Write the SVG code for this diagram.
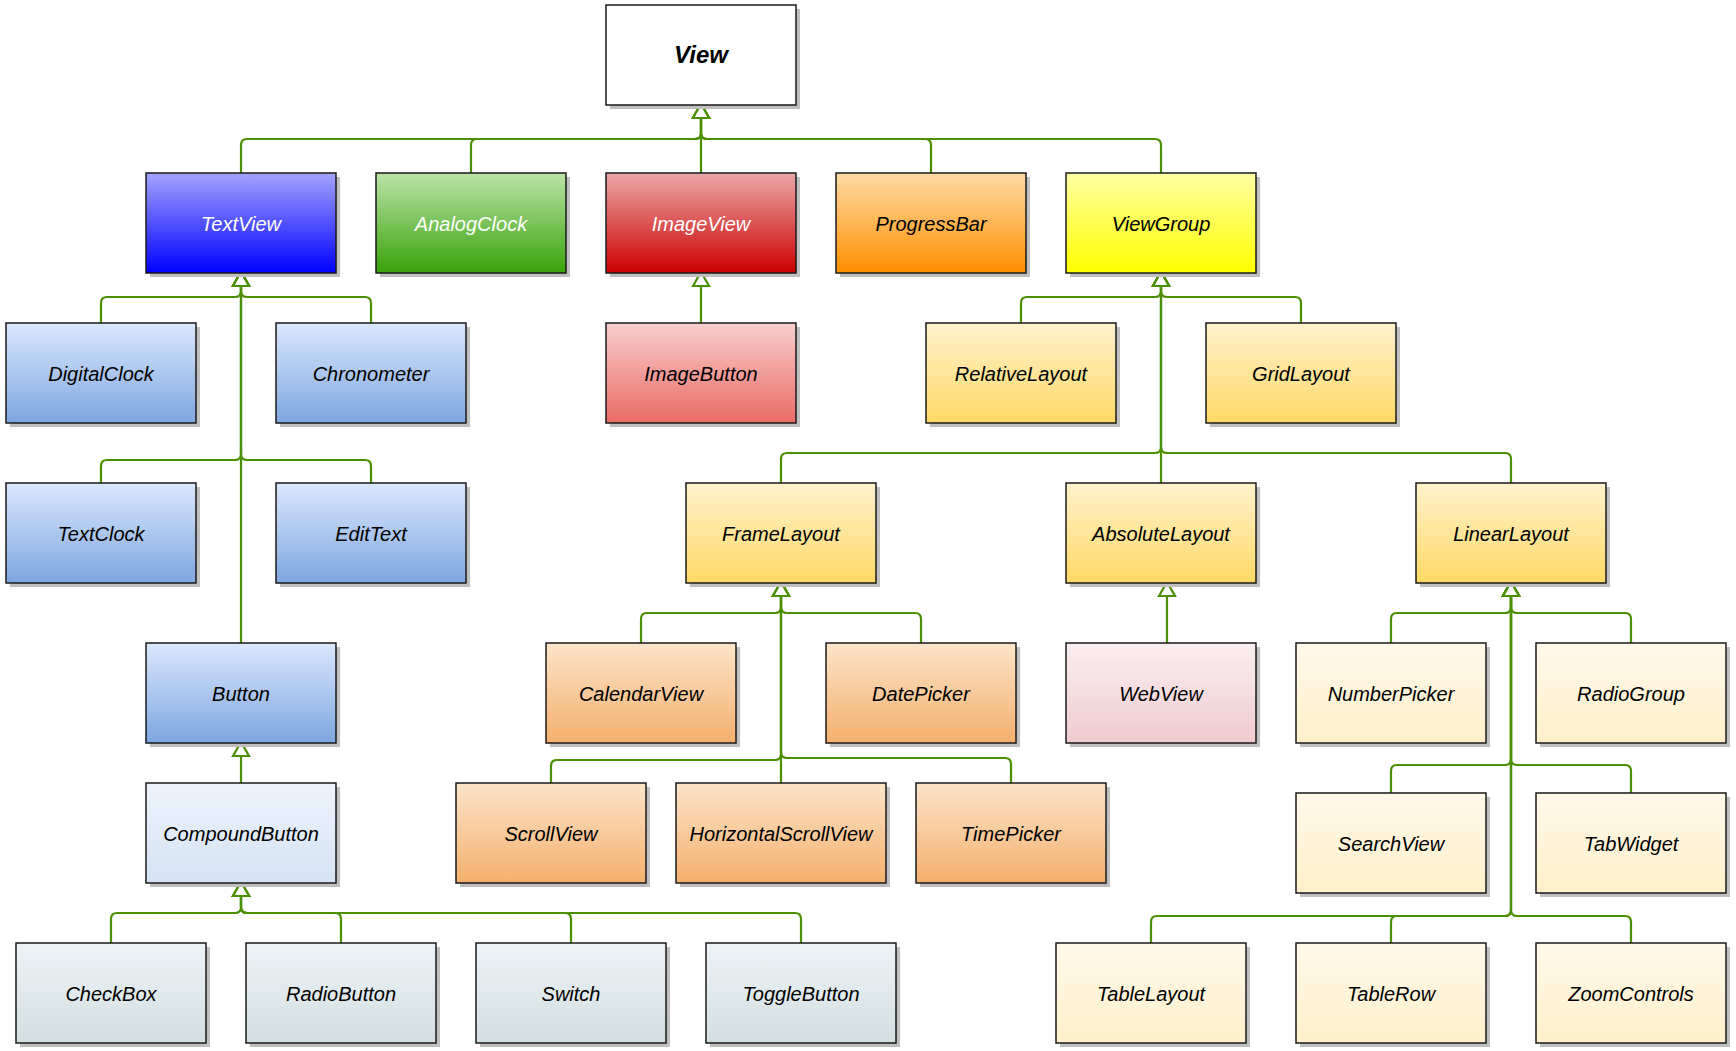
<svg xmlns="http://www.w3.org/2000/svg" width="1736" height="1051" viewBox="0 0 1736 1051">
<defs>
<style>
.shadow{fill:#BFBFBF}
.box{stroke:#1A1A1A;stroke-width:1.5}
.lbl{font-family:"Liberation Sans",Arial,sans-serif;font-size:20px;font-style:italic;text-anchor:middle;fill:#000}
.wh{fill:#fff}
.big{font-size:24px;font-weight:bold}
.edge{fill:none;stroke:#4A9000;stroke-width:2.2;marker-end:url(#tri)}
</style>
<marker id="tri" markerUnits="userSpaceOnUse" markerWidth="20" markerHeight="20" viewBox="-2 -2 20 20" refX="13" refY="8" orient="auto">
<path d="M0,0 L14,8 L0,16 Z" fill="#fff" stroke="#4A9000" stroke-width="2.2"/>
</marker>
<linearGradient id="gTextView" x1="0" y1="0" x2="0" y2="1"><stop offset="0" stop-color="#A3A3FF"/><stop offset="1" stop-color="#0000FF"/></linearGradient>
<linearGradient id="gAnalog" x1="0" y1="0" x2="0" y2="1"><stop offset="0" stop-color="#BCE3A8"/><stop offset="1" stop-color="#38A30A"/></linearGradient>
<linearGradient id="gImageView" x1="0" y1="0" x2="0" y2="1"><stop offset="0" stop-color="#ECA8A8"/><stop offset="1" stop-color="#CC0000"/></linearGradient>
<linearGradient id="gProgress" x1="0" y1="0" x2="0" y2="1"><stop offset="0" stop-color="#FFDBA6"/><stop offset="1" stop-color="#FF8F00"/></linearGradient>
<linearGradient id="gViewGroup" x1="0" y1="0" x2="0" y2="1"><stop offset="0" stop-color="#FFFFA3"/><stop offset="1" stop-color="#FFFF00"/></linearGradient>
<linearGradient id="gBlue" x1="0" y1="0" x2="0" y2="1"><stop offset="0" stop-color="#DAE8FC"/><stop offset="1" stop-color="#7EA6E0"/></linearGradient>
<linearGradient id="gRed" x1="0" y1="0" x2="0" y2="1"><stop offset="0" stop-color="#F8CECC"/><stop offset="1" stop-color="#EA6B66"/></linearGradient>
<linearGradient id="gYellow" x1="0" y1="0" x2="0" y2="1"><stop offset="0" stop-color="#FFF2CC"/><stop offset="1" stop-color="#FFD966"/></linearGradient>
<linearGradient id="gOrange" x1="0" y1="0" x2="0" y2="1"><stop offset="0" stop-color="#FCE4CA"/><stop offset="1" stop-color="#F4B06C"/></linearGradient>
<linearGradient id="gPink" x1="0" y1="0" x2="0" y2="1"><stop offset="0" stop-color="#FAEEF0"/><stop offset="1" stop-color="#F0CBCF"/></linearGradient>
<linearGradient id="gCream" x1="0" y1="0" x2="0" y2="1"><stop offset="0" stop-color="#FFF9E9"/><stop offset="1" stop-color="#FFF0CB"/></linearGradient>
<linearGradient id="gLightBlue" x1="0" y1="0" x2="0" y2="1"><stop offset="0" stop-color="#EEF4FC"/><stop offset="1" stop-color="#D4E2F4"/></linearGradient>
<linearGradient id="gGray" x1="0" y1="0" x2="0" y2="1"><stop offset="0" stop-color="#EEF3F6"/><stop offset="1" stop-color="#D2DFE1"/></linearGradient>
</defs>
<rect width="1736" height="1051" fill="#fff"/>

<g id="connectors">
<path class="edge" d="M241 173 V145 Q241 139 247 139 H695 Q701 139 701 133 V105"/>
<path class="edge" d="M471 173 V145 Q471 139 477 139 H695 Q701 139 701 133 V105"/>
<path class="edge" d="M701 173 V105"/>
<path class="edge" d="M931 173 V145 Q931 139 925 139 H707 Q701 139 701 133 V105"/>
<path class="edge" d="M1161 173 V145 Q1161 139 1155 139 H707 Q701 139 701 133 V105"/>
<path class="edge" d="M101 323 V303 Q101 297 107 297 H235 Q241 297 241 291 V273"/>
<path class="edge" d="M371 323 V303 Q371 297 365 297 H247 Q241 297 241 291 V273"/>
<path class="edge" d="M101 483 V466 Q101 460 107 460 H235 Q241 460 241 454 V273"/>
<path class="edge" d="M371 483 V466 Q371 460 365 460 H247 Q241 460 241 454 V273"/>
<path class="edge" d="M241 643 V273"/>
<path class="edge" d="M701 323 V273"/>
<path class="edge" d="M1021 323 V303 Q1021 297 1027 297 H1155 Q1161 297 1161 291 V273"/>
<path class="edge" d="M1301 323 V303 Q1301 297 1295 297 H1167 Q1161 297 1161 291 V273"/>
<path class="edge" d="M781 483 V459 Q781 453 787 453 H1155 Q1161 453 1161 447 V273"/>
<path class="edge" d="M1161 483 V273"/>
<path class="edge" d="M1511 483 V459 Q1511 453 1505 453 H1167 Q1161 453 1161 447 V273"/>
<path class="edge" d="M241 783 V743"/>
<path class="edge" d="M111 943 V919 Q111 913 117 913 H235 Q241 913 241 907 V883"/>
<path class="edge" d="M341 943 V919 Q341 913 335 913 H247 Q241 913 241 907 V883"/>
<path class="edge" d="M571 943 V919 Q571 913 565 913 H247 Q241 913 241 907 V883"/>
<path class="edge" d="M801 943 V919 Q801 913 795 913 H247 Q241 913 241 907 V883"/>
<path class="edge" d="M641 643 V619 Q641 613 647 613 H775 Q781 613 781 607 V583"/>
<path class="edge" d="M921 643 V619 Q921 613 915 613 H787 Q781 613 781 607 V583"/>
<path class="edge" d="M551 783 V766 Q551 760 557 760 H775 Q781 760 781 754 V583"/>
<path class="edge" d="M781 783 V583"/>
<path class="edge" d="M1011 783 V764 Q1011 758 1005 758 H787 Q781 758 781 752 V583"/>
<path class="edge" d="M1167 643 V583"/>
<path class="edge" d="M1391 643 V619 Q1391 613 1397 613 H1505 Q1511 613 1511 607 V583"/>
<path class="edge" d="M1631 643 V619 Q1631 613 1625 613 H1517 Q1511 613 1511 607 V583"/>
<path class="edge" d="M1391 793 V771 Q1391 765 1397 765 H1505 Q1511 765 1511 759 V583"/>
<path class="edge" d="M1631 793 V771 Q1631 765 1625 765 H1517 Q1511 765 1511 759 V583"/>
<path class="edge" d="M1151 943 V922 Q1151 916 1157 916 H1505 Q1511 916 1511 910 V583"/>
<path class="edge" d="M1391 943 V922 Q1391 916 1397 916 H1505 Q1511 916 1511 910 V583"/>
<path class="edge" d="M1631 943 V922 Q1631 916 1625 916 H1517 Q1511 916 1511 910 V583"/>
</g>

<g id="n-View"><rect class="shadow" x="610" y="9" width="190" height="100"/><rect class="box" x="606" y="5" width="190" height="100" fill="#fff"/><text class="lbl big" x="701" y="63">View</text></g>

<g id="n-TextView"><rect class="shadow" x="150" y="177" width="190" height="100"/><rect class="box" x="146" y="173" width="190" height="100" fill="url(#gTextView)"/><text class="lbl wh" x="241" y="231">TextView</text></g>
<g id="n-AnalogClock"><rect class="shadow" x="380" y="177" width="190" height="100"/><rect class="box" x="376" y="173" width="190" height="100" fill="url(#gAnalog)"/><text class="lbl wh" x="471" y="231">AnalogClock</text></g>
<g id="n-ImageView"><rect class="shadow" x="610" y="177" width="190" height="100"/><rect class="box" x="606" y="173" width="190" height="100" fill="url(#gImageView)"/><text class="lbl wh" x="701" y="231">ImageView</text></g>
<g id="n-ProgressBar"><rect class="shadow" x="840" y="177" width="190" height="100"/><rect class="box" x="836" y="173" width="190" height="100" fill="url(#gProgress)"/><text class="lbl" x="931" y="231">ProgressBar</text></g>
<g id="n-ViewGroup"><rect class="shadow" x="1070" y="177" width="190" height="100"/><rect class="box" x="1066" y="173" width="190" height="100" fill="url(#gViewGroup)"/><text class="lbl" x="1161" y="231">ViewGroup</text></g>

<g id="n-DigitalClock"><rect class="shadow" x="10" y="327" width="190" height="100"/><rect class="box" x="6" y="323" width="190" height="100" fill="url(#gBlue)"/><text class="lbl" x="101" y="381">DigitalClock</text></g>
<g id="n-Chronometer"><rect class="shadow" x="280" y="327" width="190" height="100"/><rect class="box" x="276" y="323" width="190" height="100" fill="url(#gBlue)"/><text class="lbl" x="371" y="381">Chronometer</text></g>
<g id="n-ImageButton"><rect class="shadow" x="610" y="327" width="190" height="100"/><rect class="box" x="606" y="323" width="190" height="100" fill="url(#gRed)"/><text class="lbl" x="701" y="381">ImageButton</text></g>
<g id="n-RelativeLayout"><rect class="shadow" x="930" y="327" width="190" height="100"/><rect class="box" x="926" y="323" width="190" height="100" fill="url(#gYellow)"/><text class="lbl" x="1021" y="381">RelativeLayout</text></g>
<g id="n-GridLayout"><rect class="shadow" x="1210" y="327" width="190" height="100"/><rect class="box" x="1206" y="323" width="190" height="100" fill="url(#gYellow)"/><text class="lbl" x="1301" y="381">GridLayout</text></g>

<g id="n-TextClock"><rect class="shadow" x="10" y="487" width="190" height="100"/><rect class="box" x="6" y="483" width="190" height="100" fill="url(#gBlue)"/><text class="lbl" x="101" y="541">TextClock</text></g>
<g id="n-EditText"><rect class="shadow" x="280" y="487" width="190" height="100"/><rect class="box" x="276" y="483" width="190" height="100" fill="url(#gBlue)"/><text class="lbl" x="371" y="541">EditText</text></g>
<g id="n-FrameLayout"><rect class="shadow" x="690" y="487" width="190" height="100"/><rect class="box" x="686" y="483" width="190" height="100" fill="url(#gYellow)"/><text class="lbl" x="781" y="541">FrameLayout</text></g>
<g id="n-AbsoluteLayout"><rect class="shadow" x="1070" y="487" width="190" height="100"/><rect class="box" x="1066" y="483" width="190" height="100" fill="url(#gYellow)"/><text class="lbl" x="1161" y="541">AbsoluteLayout</text></g>
<g id="n-LinearLayout"><rect class="shadow" x="1420" y="487" width="190" height="100"/><rect class="box" x="1416" y="483" width="190" height="100" fill="url(#gYellow)"/><text class="lbl" x="1511" y="541">LinearLayout</text></g>

<g id="n-Button"><rect class="shadow" x="150" y="647" width="190" height="100"/><rect class="box" x="146" y="643" width="190" height="100" fill="url(#gBlue)"/><text class="lbl" x="241" y="701">Button</text></g>
<g id="n-CalendarView"><rect class="shadow" x="550" y="647" width="190" height="100"/><rect class="box" x="546" y="643" width="190" height="100" fill="url(#gOrange)"/><text class="lbl" x="641" y="701">CalendarView</text></g>
<g id="n-DatePicker"><rect class="shadow" x="830" y="647" width="190" height="100"/><rect class="box" x="826" y="643" width="190" height="100" fill="url(#gOrange)"/><text class="lbl" x="921" y="701">DatePicker</text></g>
<g id="n-WebView"><rect class="shadow" x="1070" y="647" width="190" height="100"/><rect class="box" x="1066" y="643" width="190" height="100" fill="url(#gPink)"/><text class="lbl" x="1161" y="701">WebView</text></g>
<g id="n-NumberPicker"><rect class="shadow" x="1300" y="647" width="190" height="100"/><rect class="box" x="1296" y="643" width="190" height="100" fill="url(#gCream)"/><text class="lbl" x="1391" y="701">NumberPicker</text></g>
<g id="n-RadioGroup"><rect class="shadow" x="1540" y="647" width="190" height="100"/><rect class="box" x="1536" y="643" width="190" height="100" fill="url(#gCream)"/><text class="lbl" x="1631" y="701">RadioGroup</text></g>

<g id="n-CompoundButton"><rect class="shadow" x="150" y="787" width="190" height="100"/><rect class="box" x="146" y="783" width="190" height="100" fill="url(#gLightBlue)"/><text class="lbl" x="241" y="841">CompoundButton</text></g>
<g id="n-ScrollView"><rect class="shadow" x="460" y="787" width="190" height="100"/><rect class="box" x="456" y="783" width="190" height="100" fill="url(#gOrange)"/><text class="lbl" x="551" y="841">ScrollView</text></g>
<g id="n-HorizontalScrollView"><rect class="shadow" x="680" y="787" width="210" height="100"/><rect class="box" x="676" y="783" width="210" height="100" fill="url(#gOrange)"/><text class="lbl" x="781" y="841">HorizontalScrollView</text></g>
<g id="n-TimePicker"><rect class="shadow" x="920" y="787" width="190" height="100"/><rect class="box" x="916" y="783" width="190" height="100" fill="url(#gOrange)"/><text class="lbl" x="1011" y="841">TimePicker</text></g>
<g id="n-SearchView"><rect class="shadow" x="1300" y="797" width="190" height="100"/><rect class="box" x="1296" y="793" width="190" height="100" fill="url(#gCream)"/><text class="lbl" x="1391" y="851">SearchView</text></g>
<g id="n-TabWidget"><rect class="shadow" x="1540" y="797" width="190" height="100"/><rect class="box" x="1536" y="793" width="190" height="100" fill="url(#gCream)"/><text class="lbl" x="1631" y="851">TabWidget</text></g>

<g id="n-CheckBox"><rect class="shadow" x="20" y="947" width="190" height="100"/><rect class="box" x="16" y="943" width="190" height="100" fill="url(#gGray)"/><text class="lbl" x="111" y="1001">CheckBox</text></g>
<g id="n-RadioButton"><rect class="shadow" x="250" y="947" width="190" height="100"/><rect class="box" x="246" y="943" width="190" height="100" fill="url(#gGray)"/><text class="lbl" x="341" y="1001">RadioButton</text></g>
<g id="n-Switch"><rect class="shadow" x="480" y="947" width="190" height="100"/><rect class="box" x="476" y="943" width="190" height="100" fill="url(#gGray)"/><text class="lbl" x="571" y="1001">Switch</text></g>
<g id="n-ToggleButton"><rect class="shadow" x="710" y="947" width="190" height="100"/><rect class="box" x="706" y="943" width="190" height="100" fill="url(#gGray)"/><text class="lbl" x="801" y="1001">ToggleButton</text></g>
<g id="n-TableLayout"><rect class="shadow" x="1060" y="947" width="190" height="100"/><rect class="box" x="1056" y="943" width="190" height="100" fill="url(#gCream)"/><text class="lbl" x="1151" y="1001">TableLayout</text></g>
<g id="n-TableRow"><rect class="shadow" x="1300" y="947" width="190" height="100"/><rect class="box" x="1296" y="943" width="190" height="100" fill="url(#gCream)"/><text class="lbl" x="1391" y="1001">TableRow</text></g>
<g id="n-ZoomControls"><rect class="shadow" x="1540" y="947" width="190" height="100"/><rect class="box" x="1536" y="943" width="190" height="100" fill="url(#gCream)"/><text class="lbl" x="1631" y="1001">ZoomControls</text></g>
</svg>
